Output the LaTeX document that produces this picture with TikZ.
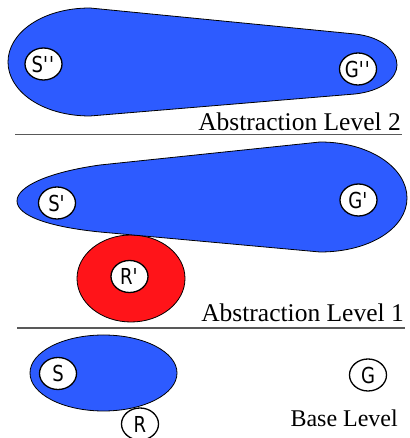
\documentclass[tikz,border=0pt]{standalone}
\usepackage{fontspec}
\setmainfont{Liberation Serif}
\newfontfamily\statefont[FakeStretch=0.82]{DejaVu Sans}
\usetikzlibrary{shapes.geometric}
\definecolor{regionblue}{RGB}{45,91,255}
\definecolor{regionred}{RGB}{255,20,25}
\tikzset{
  state/.style={ellipse, draw=black, line width=1.3pt, fill=white,
    minimum width=37pt, minimum height=32pt, inner sep=0pt,
    font=\statefont\fontsize{22}{22}\selectfont},
  region/.style={draw=black, line width=0.8pt, fill=regionblue},
  levelrule/.style={draw=black!65, line width=1.3pt},
  levellabel/.style={anchor=base east, inner sep=0pt,
    font=\fontsize{25.5}{28}\selectfont}
}
\newcommand{\qs}{\textquotesingle}
\begin{document}
\begin{tikzpicture}[x=1pt,y=1pt]
        \useasboundingbox (0,0) rectangle (409,438);

        % Abstraction Level 2
        \draw[region] (90,430) .. controls (42,430) and (8,405) .. (8,376)
            .. controls (8,347) and (42,322) .. (90,322) -- (355,344)
            .. controls (382,347) and (397,360) .. (397,373)
            .. controls (397,387) and (382,401) .. (355,404) -- cycle;
        \node[state] (s2) at (43.5,374) {S\qs\qs};
        \node[state] (g2) at (358,369) {G\qs\qs};
        \coordinate (ruletwol) at (15,303.3);
        \coordinate (ruletwor) at (402,303.3);
        \draw[levelrule] (ruletwol) -- (ruletwor);
        \node[levellabel] (labtwo) at (401,307.3) {Abstraction Level 2};

        % Abstraction Level 1
        \fill[regionred, draw=black, line width=0.8pt] (131,159.5) ellipse (54 and 43.5);
        \draw[region] (320,296) .. controls (370,296) and (407,270) .. (407,240)
            .. controls (407,210) and (370,186) .. (320,186) -- (100,206)
            .. controls (50,211) and (17,222) .. (17,237)
            .. controls (17,252) and (50,266) .. (100,273) -- cycle;
        \node[state] (s1) at (57,235) {S\qs};
        \node[state] (g1) at (358.5,238) {G\qs};
        \node[state] (r1) at (129.5,161.5) {R\qs};
        \coordinate (ruleonel) at (17,110);
        \coordinate (ruleoner) at (405,110);
        \draw[levelrule] (ruleonel) -- (ruleoner);
        \node[levellabel] (labone) at (404,116.3) {Abstraction Level 1};

        % Base Level
        \draw[region] (103.5,65) ellipse (73.5 and 38);
        \node[state] (s0) at (58,64.5) {S};
        \node[state] (g0) at (368,63) {G};
        \node[state] (r0) at (140,14) {R};
        \node[levellabel, font=\fontsize{24}{26}\selectfont] (labzero) at (398,12) {Base Level};

    \end{tikzpicture}
\end{document}
